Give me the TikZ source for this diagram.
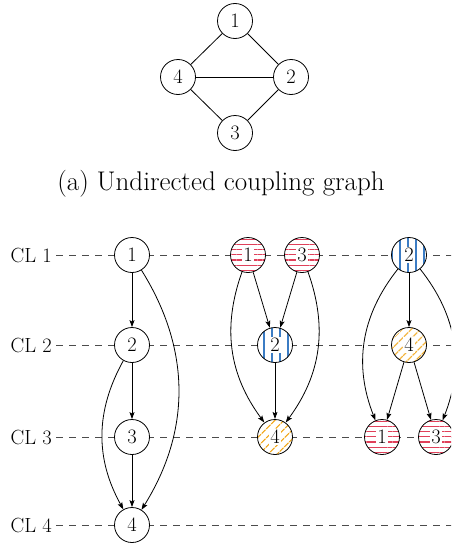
\documentclass[tikz,border=0pt]{standalone}
\usepackage{xcolor}
\usetikzlibrary{arrows.meta,patterns.meta}
\definecolor{patred}{HTML}{E0405A}
\definecolor{patblue}{HTML}{3B7CC4}
\definecolor{patorange}{HTML}{F2A81D}
\newcommand\wbox[1]{{\setlength\fboxsep{1.5pt}\colorbox{white}{#1}}}
\tikzset{
  cnode/.style={circle,draw,fill=white,line width=0.8pt,minimum size=35pt,inner sep=0pt,font=\fontsize{20.5}{24}\selectfont},
  patR/.style={preaction={fill=white},pattern={Lines[angle=0,distance=5.2pt,line width=1.1pt]},pattern color=patred},
  patB/.style={preaction={fill=white},pattern={Lines[angle=90,distance=8pt,line width=1.2pt]},pattern color=patblue},
  patO/.style={preaction={fill=white},pattern={Lines[angle=45,distance=6.5pt,line width=1.2pt]},pattern color=patorange},
  uedge/.style={line width=0.8pt},
  aedge/.style={line width=0.8pt,-{Stealth[length=7pt,width=5pt,inset=1.5pt]}},
  cllab/.style={anchor=east,inner sep=0pt,font=\fontsize{20.5}{24}\selectfont},
  clline/.style={black!70,line width=0.9pt,dash pattern=on 6.5pt off 6.5pt,shorten <=4pt},
}
\begin{document}
\begin{tikzpicture}[x=1pt,y=-1pt]
\useasboundingbox (0,0) rectangle (451,546);
\clip (0,0) rectangle (451,546);
% top graph
\node[cnode] (t1) at (235,21) {1};
\node[cnode] (t4) at (178,77) {4};
\node[cnode] (t2) at (291,77) {2};
\node[cnode] (t3) at (235,133) {3};
\draw[uedge] (t1) -- (t2);
\draw[uedge] (t1) -- (t4);
\draw[uedge] (t4) -- (t2);
\draw[uedge] (t4) -- (t3);
\draw[uedge] (t3) -- (t2);
\node[font=\fontsize{27}{32}\selectfont] (cap) at (221,184) {(a) Undirected coupling graph};
% CL rows
\node[cllab] (cl1) at (52,255) {CL 1};
\node[cllab] (cl2) at (52,345) {CL 2};
\node[cllab] (cl3) at (52,437) {CL 3};
\node[cllab] (cl4) at (52,525) {CL 4};
\coordinate (e1) at (460,255);
\coordinate (e2) at (460,345);
\coordinate (e3) at (460,437);
\coordinate (e4) at (460,525);
\draw[clline] (cl1.east) -- (e1);
\draw[clline] (cl2.east) -- (e2);
\draw[clline] (cl3.east) -- (e3);
\draw[clline] (cl4.east) -- (e4);
% left graph
\node[cnode] (a1) at (132,255) {1};
\node[cnode] (a2) at (132,345) {2};
\node[cnode] (a3) at (132,437) {3};
\node[cnode] (a4) at (132,525) {4};
\draw[aedge] (a1) -- (a2);
\draw[aedge] (a2) -- (a3);
\draw[aedge] (a3) -- (a4);
\draw[aedge] (a2) to[bend right=29] (a4);
\draw[aedge] (a1) to[bend left=32] (a4);
% middle graph
\node[cnode,patR] (b1) at (248,255) {\wbox{1}};
\node[cnode,patR] (b3) at (302,255) {\wbox{3}};
\node[cnode,patB] (b2) at (275,345) {\wbox{2}};
\node[cnode,patO] (b4) at (275,437) {\wbox{4}};
\draw[aedge] (b1) -- (b2);
\draw[aedge] (b3) -- (b2);
\draw[aedge] (b2) -- (b4);
\draw[aedge] (b1) to[bend right=28] (b4);
\draw[aedge] (b3) to[bend left=28] (b4);
% right graph
\node[cnode,patB] (c2) at (409,255) {\wbox{2}};
\node[cnode,patO] (c4) at (409,345) {\wbox{4}};
\node[cnode,patR] (c1) at (382,437) {\wbox{1}};
\node[cnode,patR] (c3) at (436,437) {\wbox{3}};
\draw[aedge] (c2) -- (c4);
\draw[aedge] (c4) -- (c1);
\draw[aedge] (c4) -- (c3);
\draw[aedge] (c2) to[bend right=30] (c1);
\draw[aedge] (c2) to[bend left=30] (c3);
\end{tikzpicture}
\end{document}
